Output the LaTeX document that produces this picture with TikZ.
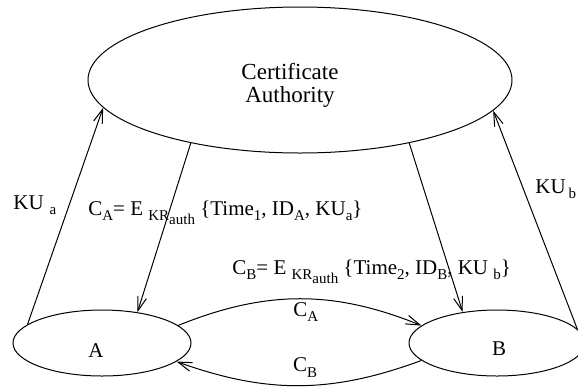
\documentclass[tikz,border=0pt]{standalone}
\usepackage{fontspec}
\setmainfont{Liberation Serif}
\usetikzlibrary{arrows.meta,shapes.geometric}

% lowered small text, as the figure sets its indices
\newcommand{\subtxt}[1]{\raisebox{-0.55ex}{\fontsize{7.5}{8}\selectfont #1}}

\begin{document}
\begin{tikzpicture}[x=0.5pt,y=-0.5pt,
    party/.style={draw, ellipse, inner sep=0pt, line width=0.5pt},
    msg/.style={-{Straight Barb[length=7pt,width=4.5pt]}, line width=0.5pt},
    lbl/.style={font=\fontsize{10.5}{11}\selectfont, inner sep=0pt}]

    \useasboundingbox (0,0) rectangle (578,387);

    % ================= PARTIES =================
    \node[party, minimum width=212pt, minimum height=73pt] (CA) at (300,80) {};
    \node[align=center, font=\fontsize{11.5}{11.5}\selectfont] (CAtxt) at (290,85) {Certificate\\Authority};
    \node[party, minimum width=89pt, minimum height=33pt] (A) at (102,343) {};
    \node[lbl] (Atxt) at (96,351) {A};
    \node[party, minimum width=88pt, minimum height=33pt] (B) at (497,343) {};
    \node[lbl] (Btxt) at (499,349) {B};

    % ================= KEYS TO THE CA =================
    \draw[msg] (A.166.5) -- (CA.188);
    \draw[msg] (B.10) -- (CA.351.5);

    % ================= CERTIFICATES FROM THE CA =================
    \draw[msg] (CA.210) -- (A.41);
    \draw[msg] (CA.330.6) -- (B.138.2);

    % ================= EXCHANGE BETWEEN A AND B =================
    \draw[msg] (A.13) to[bend left=22]
        node[lbl, midway, xshift=3pt, yshift=-6.5pt] (cA) {C\subtxt{A}} (B.167);
    \draw[msg] (B.193.5) to[bend left=20]
        node[lbl, midway, xshift=3pt, yshift=9pt] (cB) {C\subtxt{B}} (A.346);

    % Labels
    \node[lbl, anchor=base west] (kuA) at (13,209) {KU\hspace{3pt}\subtxt{a}};
    \node[lbl, anchor=base west] (kuB) at (535,193) {KU\hspace{1.5pt}\subtxt{b}};
    \node[lbl, anchor=base west] (certA) at (88,215)
        {C\subtxt{A}= E \subtxt{KR\subtxt{auth}} \{Time\subtxt{1}, ID\subtxt{A}, KU\subtxt{a}\}};
    \node[lbl, anchor=base west] (certB) at (232,274)
        {C\subtxt{B}= E \subtxt{KR\subtxt{auth}} \{Time\subtxt{2}, ID\subtxt{B}, KU \subtxt{b}\}};

\end{tikzpicture}
\end{document}
